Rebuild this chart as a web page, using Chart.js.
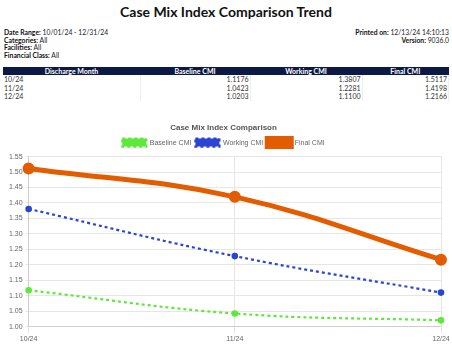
<!DOCTYPE html>
<html>
<head>
<meta charset="utf-8">
<script src="https://cdn.jsdelivr.net/npm/chart.js@4.4.1/dist/chart.umd.min.js"></script>
<style>
  body { margin: 0; width: 452px; height: 352px; background: #fff; font-family: Lato, sans-serif; color: #111; overflow: hidden; position: relative; }
  h1 { position: absolute; top: 3px; left: 0; width: 452px; margin: 0; text-align: center; font-size: 14px; line-height: 18px; font-weight: 700; }
  .info { position: absolute; font-size: 6.8px; line-height: 7.5px; color: #222; }
  .info b { font-weight: 700; color: #111; }
  table { position: absolute; top: 67px; left: 3px; width: 446px; border-collapse: collapse; font-size: 7px; }
  th { background: #0c1846; color: #fff; font-weight: 700; height: 8px; padding: 0; line-height: 8px; }
  td { padding: 0 1px; line-height: 8.5px; height: 8.5px; border-right: 1px solid #eee; color: #333; }
  td.num { text-align: right; }
  #chartBox { position: absolute; left: 0; top: 121px; width: 452px; height: 231px; }
</style>
</head>
<body>
<h1>Case Mix Index Comparison Trend</h1>
<div class="info" style="left:4px; top:29px;">
  <div><b>Date Range:</b> 10/01/24 - 12/31/24</div>
  <div><b>Categories:</b> All</div>
  <div><b>Facilities:</b> All</div>
  <div><b>Financial Class:</b> All</div>
</div>
<div class="info" style="right:3px; top:29px; text-align:right;">
  <div><b>Printed on:</b> 12/13/24 14:10:13</div>
  <div><b>Version:</b> 9036.0</div>
</div>
<table id="cmiTable">
  <thead><tr>
    <th style="width:137px">Discharge Month</th>
    <th style="width:110px">Baseline CMI</th>
    <th style="width:112px">Working CMI</th>
    <th>Final CMI</th>
  </tr></thead>
  <tbody></tbody>
</table>
<div id="chartBox"><canvas id="cmiChart"></canvas></div>
<script>
// months + CMI values per series
const months = ['10/24', '11/24', '12/24'];
const baselineCmi = [1.1176, 1.0423, 1.0203];
const workingCmi = [1.3807, 1.2281, 1.1100];
const finalCmi = [1.5117, 1.4198, 1.2166];
const yTicks = [1.00, 1.05, 1.10, 1.15, 1.20, 1.25, 1.30, 1.35, 1.40, 1.45, 1.50, 1.55];

// fill the summary table
const tbody = document.querySelector('#cmiTable tbody');
months.forEach((m, i) => {
  const tr = document.createElement('tr');
  tr.innerHTML = `<td>${m}</td><td class="num">${baselineCmi[i].toFixed(4)}</td>` +
    `<td class="num">${workingCmi[i].toFixed(4)}</td><td class="num">${finalCmi[i].toFixed(4)}</td>`;
  tbody.appendChild(tr);
});

Chart.defaults.font.family = 'Arial, "Liberation Sans", sans-serif';
Chart.defaults.font.size = 7;
Chart.defaults.color = '#666';

const ctx = document.getElementById('cmiChart').getContext('2d');
new Chart(ctx, {
  type: 'line',
  data: {
    labels: months,
    datasets: [
      {
        label: 'Baseline CMI',
        data: baselineCmi,
        borderColor: '#5ee83a',
        backgroundColor: '#5ee83a',
        borderWidth: 2.2,
        borderDash: [3, 3],
        pointRadius: 2.2,
        tension: 0.4
      },
      {
        label: 'Working CMI',
        data: workingCmi,
        borderColor: '#2a45cf',
        backgroundColor: '#2a45cf',
        borderWidth: 2.2,
        borderDash: [3, 3],
        pointRadius: 2.2,
        tension: 0.4
      },
      {
        label: 'Final CMI',
        data: finalCmi,
        borderColor: '#e35d00',
        backgroundColor: '#e35d00',
        borderWidth: 5,
        pointRadius: 3.5,
        tension: 0.4
      }
    ]
  },
  options: {
    responsive: true,
    maintainAspectRatio: false,
    animation: false,
    layout: { padding: { left: 6, right: 11, top: 0, bottom: 8 } },
    plugins: {
      title: { display: true, text: 'Case Mix Index Comparison', color: '#555', font: { size: 8, weight: 'bold' }, padding: { top: 2, bottom: 2 } },
      legend: { labels: { boxWidth: 24, boxHeight: 8, padding: 4, color: '#666', font: { size: 7 } } },
      tooltip: { enabled: false }
    },
    scales: {
      x: {
        grid: { color: '#e6e6e6', tickLength: 7 },
        ticks: { padding: 1 }
      },
      y: {
        min: yTicks[0],
        max: yTicks[yTicks.length - 1],
        grid: { color: '#e6e6e6', tickLength: 3 },
        ticks: { stepSize: 0.05, padding: 3, callback: v => v.toFixed(2) }
      }
    }
  }
});
</script>
</body>
</html>
